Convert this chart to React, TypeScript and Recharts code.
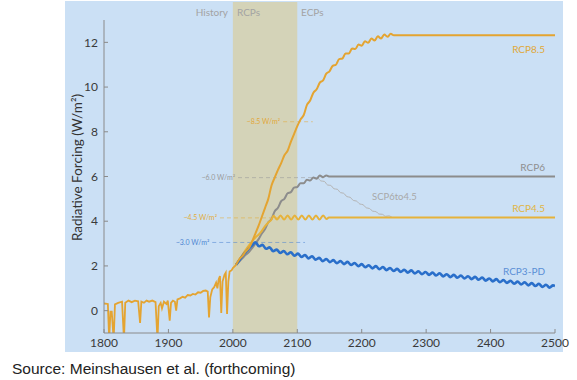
import React from 'react';
import { LineChart, Line, XAxis, YAxis, ReferenceArea, ReferenceLine, ReferenceDot } from 'recharts';

type Pt = [number, number];

const xTicks = [1800, 1900, 2000, 2100, 2200, 2300, 2400, 2500];
const yTicks = [0, 2, 4, 6, 8, 10, 12];

const history: Pt[] = [
  [1800, 0.32], [1806, 0.3], [1808, -1.3], [1810, -0.05], [1812, -0.05], [1815, -1.3], [1817, 0.28],
  [1822, 0.35], [1828, 0.4], [1831, -1.3], [1833, 0.35], [1838, 0.45], [1843, 0.38], [1848, 0.45],
  [1853, 0.42], [1856, -0.55], [1858, 0.4], [1862, 0.35], [1866, 0.45], [1870, 0.4], [1875, 0.45],
  [1880, 0.38], [1883, -1.3], [1885, 0.2], [1888, 0.35], [1890, 0.1], [1893, 0.4], [1897, 0.3],
  [1899, 0.45], [1902, -0.45], [1904, 0.35], [1907, 0.45], [1910, 0.4], [1912, 0.0], [1914, 0.5],
  [1918, 0.55], [1922, 0.62], [1926, 0.58], [1930, 0.7], [1934, 0.68], [1938, 0.75], [1942, 0.72],
  [1946, 0.82], [1950, 0.8], [1954, 0.88], [1958, 0.9], [1961, 0.85], [1963, -0.3], [1965, 0.6],
  [1968, 0.95], [1971, 1.05], [1974, 1.25], [1976, 1.0], [1978, 1.4], [1980, 1.55], [1982, -0.1],
  [1984, 1.3], [1987, 1.6], [1989, 1.7], [1991, -0.15], [1993, 1.3], [1995, 1.75], [1998, 1.8],
  [2000, 1.9], [2005, 2.05],
];

const rcp85: Pt[] = [
  [2005, 2.05], [2010, 2.3], [2015, 2.45], [2020, 2.65], [2025, 2.8], [2030, 3.1], [2035, 3.45],
  [2040, 3.8], [2045, 4.2], [2050, 4.6], [2055, 5.0], [2060, 5.6], [2065, 5.95], [2070, 6.3],
  [2075, 6.6], [2080, 6.95], [2085, 7.15], [2090, 7.55], [2095, 7.9], [2100, 8.25], [2105, 8.55],
  [2110, 8.75], [2115, 9.2], [2120, 9.4], [2125, 9.75], [2130, 9.9], [2135, 10.2], [2140, 10.3],
  [2145, 10.6], [2150, 10.7], [2155, 10.95], [2160, 11.0], [2165, 11.25], [2170, 11.28], [2175, 11.5],
  [2180, 11.5], [2185, 11.72], [2190, 11.7], [2195, 11.9], [2200, 11.85], [2205, 12.05], [2210, 11.98],
  [2215, 12.17], [2220, 12.08], [2225, 12.27], [2230, 12.17], [2235, 12.35], [2240, 12.25],
  [2245, 12.38], [2250, 12.32], [2500, 12.32],
];

const rcp6: Pt[] = [
  [2005, 2.05], [2010, 2.2], [2015, 2.35], [2020, 2.5], [2025, 2.62], [2030, 2.8], [2035, 3.0],
  [2040, 3.2], [2045, 3.45], [2050, 3.65], [2055, 3.95], [2060, 4.1], [2065, 4.45], [2070, 4.6],
  [2075, 4.9], [2080, 5.0], [2085, 5.25], [2090, 5.3], [2095, 5.5], [2100, 5.53], [2105, 5.7],
  [2110, 5.7], [2115, 5.86], [2120, 5.82], [2125, 5.96], [2130, 5.9], [2135, 6.04], [2140, 5.97],
  [2145, 6.05], [2149, 6.0], [2500, 6.0],
];

const scp6to45: Pt[] = [
  [2132, 5.95], [2137, 5.8], [2142, 5.78], [2147, 5.62], [2152, 5.6], [2157, 5.45], [2162, 5.43],
  [2167, 5.28], [2172, 5.25], [2177, 5.1], [2182, 5.07], [2187, 4.93], [2192, 4.9], [2197, 4.77],
  [2202, 4.74], [2207, 4.6], [2212, 4.57], [2217, 4.45], [2222, 4.43], [2227, 4.32], [2232, 4.31],
  [2237, 4.22], [2242, 4.24], [2247, 4.17],
];

const rcp45: Pt[] = [
  [2005, 2.05], [2010, 2.28], [2015, 2.5], [2020, 2.72], [2025, 2.92], [2030, 3.1], [2035, 3.27],
  [2040, 3.4], [2045, 3.57], [2050, 3.78], [2055, 3.94], [2060, 4.08], [2063, 4.24], [2068.5, 4.08],
  [2074, 4.26], [2079.5, 4.08], [2085, 4.26], [2090.5, 4.08], [2096, 4.26], [2101.5, 4.08],
  [2107, 4.26], [2112.5, 4.08], [2118, 4.26], [2123.5, 4.08], [2129, 4.26], [2134.5, 4.08],
  [2140, 4.26], [2145.5, 4.1], [2149, 4.17], [2500, 4.17],
];

const rcp3pd: Pt[] = [
  [2005, 2.05], [2010, 2.25], [2015, 2.45], [2020, 2.62], [2025, 2.78], [2030, 2.92], [2035, 3.06],
  [2040.5, 2.88], [2046, 2.94], [2051.5, 2.77], [2057, 2.83], [2062.5, 2.66], [2068, 2.73],
  [2073.5, 2.58], [2079, 2.67], [2084.5, 2.52], [2090, 2.61], [2095.5, 2.46], [2101, 2.55],
  [2106.5, 2.4], [2112, 2.49], [2117.5, 2.34], [2123, 2.43], [2128.5, 2.28], [2134, 2.36],
  [2139.5, 2.21], [2145, 2.31], [2150.5, 2.17], [2156, 2.26], [2161.5, 2.12], [2167, 2.22],
  [2172.5, 2.08], [2178, 2.18], [2183.5, 2.04], [2189, 2.13], [2194.5, 1.99], [2200, 2.08],
  [2205.5, 1.94], [2211, 2.03], [2216.5, 1.89], [2222, 1.99], [2227.5, 1.85], [2233, 1.95],
  [2238.5, 1.81], [2244, 1.91], [2249.5, 1.77], [2255, 1.87], [2260.5, 1.73], [2266, 1.83],
  [2271.5, 1.7], [2277, 1.8], [2282.5, 1.66], [2288, 1.76], [2293.5, 1.63], [2299, 1.73],
  [2304.5, 1.6], [2310, 1.7], [2315.5, 1.57], [2321, 1.67], [2326.5, 1.53], [2332, 1.63],
  [2337.5, 1.5], [2343, 1.6], [2348.5, 1.47], [2354, 1.57], [2359.5, 1.44], [2365, 1.54],
  [2370.5, 1.41], [2376, 1.51], [2381.5, 1.38], [2387, 1.48], [2392.5, 1.34], [2398, 1.44],
  [2403.5, 1.31], [2409, 1.41], [2414.5, 1.27], [2420, 1.37], [2425.5, 1.24], [2431, 1.34],
  [2436.5, 1.2], [2442, 1.3], [2447.5, 1.17], [2453, 1.27], [2458.5, 1.13], [2464, 1.23],
  [2469.5, 1.1], [2475, 1.2], [2480.5, 1.06], [2486, 1.16], [2491.5, 1.03], [2497, 1.13], [2500, 1.1],
];

// Stabilisation-level annotations
const levelLabels = ['~8.5 W/m²', '~6.0 W/m²', '~4.5 W/m²', '~3.0 W/m²'];
const levelValues = [8.45, 5.95, 4.15, 3.05];
const levelStart = [2078, 2008, 1980, 1968];
const levelEnd = [2124, 2140, 2076, 2112];
const levelColors = ['#e2a83a', '#9a9a9a', '#e2ad3a', '#4f86d2'];

// Period band
const rcpPeriod = [2000, 2100];
const yDomain = [-1, 13];

// End labels
const endLabels = ['RCP8.5', 'RCP6', 'RCP4.5', 'RCP3-PD'];
const endLabelValues = [11.7, 6.41, 4.58, 1.76];
const endLabelColors = ['#e0a838', '#8f8f8f', '#e0b545', '#5b8fd6'];

const FONT = 'Lato, "Open Sans", sans-serif';

const toData = (pts: Pt[]) => pts.map(([year, v]) => ({ year, v }));

const leftLabel = (text: string, color: string) => (props: any) => {
  const vb = props.viewBox || {};
  return (
    <text x={vb.x - 3} y={vb.y} dy="0.35em" textAnchor="end" fontSize={7} fill={color} fontFamily={FONT}>
      {text}
    </text>
  );
};

const textAt = (text: string, color: string, anchor: 'start' | 'end', size: number) => (props: any) => {
  const vb = props.viewBox || {};
  const cx = vb.x + (vb.width || 0) / 2;
  const cy = vb.y + (vb.height || 0) / 2;
  return (
    <text x={cx} y={cy} dy="0.35em" textAnchor={anchor} fontSize={size} fill={color} fontFamily={FONT}>
      {text}
    </text>
  );
};

export default function App() {
  const axisColor = '#8a8a8a';
  const tickStyle = { fontSize: 12, fill: '#3a3a3a', fontFamily: FONT };
  return (
    <div style={{ position: 'absolute', left: 0, top: 0, width: 577, height: 380, background: '#fff', overflow: 'hidden' }}>
      <div style={{ position: 'absolute', left: 65, top: 1, width: 498, height: 351, background: '#cbe0f5' }} />
      <div style={{ position: 'absolute', left: 0, top: 0 }}>
        <LineChart width={577} height={380} margin={{ top: 20, right: 22, bottom: 27, left: 64 }}>
          <ReferenceArea
            x1={rcpPeriod[0]}
            x2={rcpPeriod[1]}
            y1={yDomain[0]}
            y2={13.8}
            ifOverflow="visible"
            fill="#d4d3b8"
            fillOpacity={1}
            stroke="none"
          />
          <XAxis
            dataKey="year"
            type="number"
            domain={[1800, 2500]}
            ticks={xTicks}
            allowDataOverflow
            height={20}
            stroke={axisColor}
            tickSize={-4}
            tickMargin={9}
            tick={tickStyle}
          />
          <XAxis
            xAxisId="top"
            orientation="top"
            type="number"
            domain={[1800, 2500]}
            ticks={xTicks}
            height={0}
            mirror
            tick={false}
            tickSize={4}
            stroke={axisColor}
          />
          <YAxis
            type="number"
            domain={yDomain}
            ticks={yTicks}
            allowDataOverflow
            width={40}
            stroke={axisColor}
            tickSize={-4}
            tickMargin={10}
            tick={tickStyle}
            label={{
              content: (p: any) => {
                const vb = p.viewBox || {};
                const cx = vb.x + 13;
                const cy = vb.y + vb.height / 2 - 9;
                return (
                  <text
                    x={cx}
                    y={cy}
                    transform={`rotate(-90 ${cx} ${cy})`}
                    textAnchor="middle"
                    dy="0.35em"
                    fontSize={13.5}
                    fill="#333"
                    fontFamily={FONT}
                  >
                    Radiative Forcing (W/m²)
                  </text>
                );
              },
            }}
          />
          <YAxis
            yAxisId="right"
            orientation="right"
            type="number"
            domain={yDomain}
            ticks={yTicks}
            width={0}
            mirror
            tick={false}
            tickSize={4}
            stroke={axisColor}
          />

          <ReferenceDot x={1992.5} y={13.35} r={1} fill="none" stroke="none" ifOverflow="visible"
            label={{ content: textAt('History', '#a3a3a3', 'end', 10) }} />
          <ReferenceDot x={2006.4} y={13.35} r={1} fill="none" stroke="none" ifOverflow="visible"
            label={{ content: textAt('RCPs', '#a3a3a3', 'start', 10) }} />
          <ReferenceDot x={2105.8} y={13.35} r={1} fill="none" stroke="none" ifOverflow="visible"
            label={{ content: textAt('ECPs', '#a3a3a3', 'start', 10) }} />

          {levelValues.map((v, i) => (
            <ReferenceLine
              key={levelLabels[i]}
              segment={[{ x: levelStart[i], y: v }, { x: levelEnd[i], y: v }]}
              stroke={levelColors[i]}
              strokeOpacity={0.7}
              strokeWidth={0.8}
              strokeDasharray="4 3"
              ifOverflow="visible"
              label={{ content: leftLabel(levelLabels[i], levelColors[i]) }}
            />
          ))}

          <Line data={toData(scp6to45)} dataKey="v" type="monotone" stroke="#b4b4b4" strokeWidth={1}
            dot={false} activeDot={false} isAnimationActive={false} />
          <Line data={toData(rcp6)} dataKey="v" type="monotone" stroke="#8c8c8c" strokeWidth={2}
            dot={false} activeDot={false} isAnimationActive={false} />
          <Line data={toData(rcp45)} dataKey="v" type="monotone" stroke="#e6b23a" strokeWidth={2}
            dot={false} activeDot={false} isAnimationActive={false} />
          <Line data={toData(rcp3pd)} dataKey="v" type="monotone" stroke="#2a6fca" strokeWidth={2.6}
            dot={false} activeDot={false} isAnimationActive={false} />
          <Line data={toData(rcp85)} dataKey="v" type="monotone" stroke="#e4a431" strokeWidth={2}
            dot={false} activeDot={false} isAnimationActive={false} />
          <Line data={toData(history)} dataKey="v" type="linear" stroke="#e4a431" strokeWidth={1.8}
            dot={false} activeDot={false} isAnimationActive={false} />

          {endLabels.map((t, i) => (
            <ReferenceDot key={t} x={2484.5} y={endLabelValues[i]} r={1} fill="none" stroke="none"
              label={{ content: textAt(t, endLabelColors[i], 'end', 10) }} />
          ))}
          <ReferenceDot x={2216} y={5.09} r={1} fill="none" stroke="none"
            label={{ content: textAt('SCP6to4.5', '#a8a8a8', 'start', 9.5) }} />
        </LineChart>
      </div>
      <div
        style={{
          position: 'absolute',
          left: 12,
          top: 360,
          fontFamily: '"Liberation Sans", Arial, sans-serif',
          fontSize: 15.5,
          color: '#222',
          whiteSpace: 'nowrap',
        }}
      >
        Source: Meinshausen et al. (forthcoming)
      </div>
    </div>
  );
}
